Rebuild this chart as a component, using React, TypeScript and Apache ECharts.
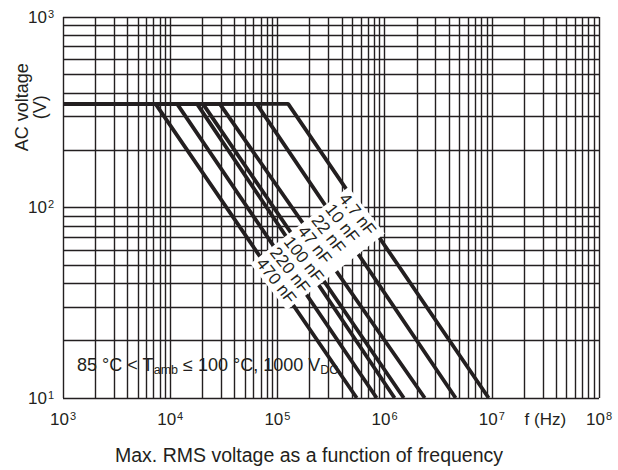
import React, { useEffect, useRef } from "react";
import * as echarts from "echarts";

// ---- data ----
const capacitances = ["4.7 nF", "10 nF", "22 nF", "47 nF", "100 nF", "220 nF", "470 nF"];
const flatVoltage = 350; // V
const startFreq = 1e3; // Hz
const endVoltage = 10; // V
const breakFreqs = [1.26e5, 6.4e4, 2.9e4, 2.02e4, 1.78e4, 1.16e4, 7.3e3];
const endFreqs = [9.35e6, 4.6e6, 2.37e6, 1.51e6, 1.24e6, 8.44e5, 5.5e5];

const xDecades = [3, 4, 5, 6, 7, 8];
const yDecades = [1, 2, 3];
const gridMultipliers = [1, 2, 3, 4, 5, 6, 7, 8, 9];

const yAxisTitle = ["AC voltage", "(V)"];
const xUnitLabel = "f (Hz)";
const xUnitPos = 3.16e7;
const noteText = "85 °C < T{sub|amb} ≤ 100 °C, 1000 V{sub|DC}";
const noteBox = { fLeft: 1e3, fRight: 5.9e5, vTop: 20, vBottom: 11.3 };
const labelAnchor = [4.6e5, 128];
const chartTitle = "Max. RMS voltage as a function of frequency";

const FONT = "'Liberation Sans', Arial, Helvetica, sans-serif";
const INK = "#231f20";

function gridValues(decades: number[]) {
  const out: number[] = [];
  for (let i = 0; i < decades.length; i++) {
    const d = decades[i];
    if (i === decades.length - 1) {
      out.push(Math.pow(10, d));
    } else {
      gridMultipliers.forEach((m) => out.push(m * Math.pow(10, d)));
    }
  }
  return out;
}

export default function App() {
  const ref = useRef<HTMLDivElement>(null);

  useEffect(() => {
    if (!ref.current) return;
    const chart = echarts.init(ref.current, null, { renderer: "svg" });

    const supRich = {
      s: { fontSize: 11, fontFamily: FONT, color: INK, verticalAlign: "top", lineHeight: 11, padding: [0, 0, 0, 1] },
    };
    const expLabel = (v: number) => `10{s|${Math.round(Math.log10(v))}}`;

    const xGrid = gridValues(xDecades).map((v) => ({ xAxis: v }));
    const yGrid = gridValues(yDecades).map((v) => ({ yAxis: v }));

    const curveSeries = capacitances.map((name, i) => ({
      name,
      type: "line",
      z: 5,
      symbol: "none",
      silent: true,
      lineStyle: { color: INK, width: 3.8 },
      data: [
        [startFreq, flatVoltage],
        [breakFreqs[i], flatVoltage],
        [endFreqs[i], endVoltage],
      ],
    }));

    chart.setOption({
      animation: false,
      title: {
        text: chartTitle,
        left: "center",
        top: 440,
        textStyle: { fontFamily: FONT, fontSize: 19.5, fontWeight: "normal", color: INK },
      },
      grid: { left: 63, top: 17, width: 536, height: 381, containLabel: false },
      xAxis: {
        type: "log",
        logBase: 10,
        min: 1e3,
        max: 1e8,
        axisLine: { show: false },
        axisTick: { show: false },
        splitLine: { show: false },
        axisLabel: {
          margin: 12,
          formatter: expLabel,
          fontFamily: FONT,
          fontSize: 17,
          color: INK,
          lineHeight: 18,
          rich: supRich,
        },
      },
      yAxis: {
        type: "log",
        logBase: 10,
        min: 10,
        max: 1000,
        axisLine: { show: false },
        axisTick: { show: false },
        splitLine: { show: false },
        axisLabel: {
          margin: 9,
          formatter: expLabel,
          fontFamily: FONT,
          fontSize: 17,
          color: INK,
          lineHeight: 18,
          rich: supRich,
        },
      },
      series: [
        {
          type: "line",
          z: 1,
          symbol: "none",
          silent: true,
          data: [[startFreq, endVoltage]],
          lineStyle: { opacity: 0 },
          markLine: {
            silent: true,
            symbol: ["none", "none"],
            label: { show: false },
            lineStyle: { color: INK, width: 1.4, type: "solid" },
            emphasis: { disabled: true },
            data: [...xGrid, ...yGrid],
          },
        },
        ...curveSeries,
      ],
    });

    const px = (f: number, v: number) => chart.convertToPixel({ gridIndex: 0 }, [f, v]) as number[];

    const boxTL = px(noteBox.fLeft, noteBox.vTop);
    const boxBR = px(noteBox.fRight, noteBox.vBottom);
    const anchor = px(labelAnchor[0], labelAnchor[1]);
    const unitPos = px(xUnitPos, endVoltage);
    const axisTitlePos = px(startFreq, 336);

    chart.setOption({
      graphic: [
        {
          type: "rect",
          z: 3,
          shape: { x: boxTL[0] + 1, y: boxTL[1] + 1, width: boxBR[0] - boxTL[0], height: boxBR[1] - boxTL[1] },
          style: { fill: "#fff" },
        },
        {
          type: "text",
          z: 4,
          x: boxTL[0] + 14,
          y: (boxTL[1] + boxBR[1]) / 2 + 1,
          style: {
            text: noteText,
            fontSize: 18,
            fontFamily: FONT,
            fill: INK,
            align: "left",
            verticalAlign: "middle",
            lineHeight: 22,
            rich: {
              sub: { fontSize: 12.5, fontFamily: FONT, fill: INK, verticalAlign: "bottom", lineHeight: 12 },
            },
          },
        },
        {
          type: "text",
          z: 10,
          x: anchor[0],
          y: anchor[1],
          rotation: (-52 * Math.PI) / 180,
          style: {
            text: capacitances.join("\n"),
            fontSize: 17,
            fontFamily: FONT,
            fill: INK,
            align: "left",
            verticalAlign: "top",
            lineHeight: 17.5,
            backgroundColor: "#fff",
            padding: [1, 3, 1, 3],
          },
        },
        {
          type: "text",
          z: 4,
          x: unitPos[0],
          y: unitPos[1] + 21,
          style: {
            text: xUnitLabel,
            fontSize: 17,
            fontFamily: FONT,
            fill: INK,
            align: "center",
            verticalAlign: "middle",
          },
        },
        {
          type: "text",
          z: 4,
          x: axisTitlePos[0] - 32,
          y: axisTitlePos[1],
          rotation: Math.PI / 2,
          style: {
            text: yAxisTitle.join("\n"),
            fontSize: 18,
            fontFamily: FONT,
            fill: INK,
            align: "center",
            verticalAlign: "middle",
            lineHeight: 18,
          },
        },
      ],
    });

    return () => chart.dispose();
  }, []);

  return (
    <div
      ref={ref}
      style={{ position: "absolute", left: 0, top: 0, width: 618, height: 470, background: "#fff" }}
    />
  );
}
